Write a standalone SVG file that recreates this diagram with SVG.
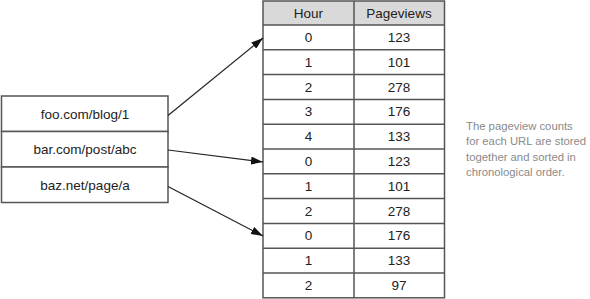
<svg xmlns="http://www.w3.org/2000/svg" width="590" height="299" viewBox="0 0 590 299">
  <style>
    .box { fill: #ffffff; stroke: #555555; stroke-width: 1.5; }
    .head { fill: #d9d9d9; }
    .grid { stroke: #555555; stroke-width: 1.5; fill: none; }
    .t { font-family: "Liberation Sans", Arial, sans-serif; font-size: 13.5px; fill: #222222; text-anchor: middle; }
    .note { font-family: "Liberation Sans", Arial, sans-serif; font-size: 11.3px; fill: #8a8a8a; }
    .arrow { stroke: #222222; stroke-width: 1.2; fill: none; marker-end: url(#head); }
  </style>
  <defs>
    <marker id="head" viewBox="0 0 12 8" refX="12" refY="4" markerWidth="12" markerHeight="8" markerUnits="userSpaceOnUse" orient="auto">
      <path d="M0,0 L12,4 L0,8 Z" fill="#111111"/>
    </marker>
  </defs>

  <!-- URL list -->
  <g id="url-foo">
    <rect class="box" x="1.5" y="96" width="166.5" height="35.5"/>
    <text class="t" x="85" y="118.5">foo.com/blog/1</text>
  </g>
  <g id="url-bar">
    <rect class="box" x="1.5" y="131.5" width="166.5" height="35.5"/>
    <text class="t" x="85" y="154">bar.com/post/abc</text>
  </g>
  <g id="url-baz">
    <rect class="box" x="1.5" y="167" width="166.5" height="35.5"/>
    <text class="t" x="85" y="189.5">baz.net/page/a</text>
  </g>

  <!-- Pageview table -->
  <g id="table">
    <rect class="head" x="263" y="1" width="181.5" height="24"/>
    <rect class="grid" x="263" y="1" width="181.5" height="296.8"/>
    <line class="grid" x1="354" y1="1" x2="354" y2="297.8"/>
    <g class="grid">
      <line x1="263" y1="25" x2="444.5" y2="25"/>
      <line x1="263" y1="49.8" x2="444.5" y2="49.8"/>
      <line x1="263" y1="74.6" x2="444.5" y2="74.6"/>
      <line x1="263" y1="99.4" x2="444.5" y2="99.4"/>
      <line x1="263" y1="124.2" x2="444.5" y2="124.2"/>
      <line x1="263" y1="149" x2="444.5" y2="149"/>
      <line x1="263" y1="173.8" x2="444.5" y2="173.8"/>
      <line x1="263" y1="198.6" x2="444.5" y2="198.6"/>
      <line x1="263" y1="223.4" x2="444.5" y2="223.4"/>
      <line x1="263" y1="248.2" x2="444.5" y2="248.2"/>
      <line x1="263" y1="273" x2="444.5" y2="273"/>
    </g>
    <text class="t" x="308.5" y="17.5">Hour</text>
    <text class="t" x="399" y="17.5">Pageviews</text>

    <text class="t" x="308.5" y="42">0</text><text class="t" x="399" y="42">123</text>
    <text class="t" x="308.5" y="66.8">1</text><text class="t" x="399" y="66.8">101</text>
    <text class="t" x="308.5" y="91.6">2</text><text class="t" x="399" y="91.6">278</text>
    <text class="t" x="308.5" y="116.4">3</text><text class="t" x="399" y="116.4">176</text>
    <text class="t" x="308.5" y="141.2">4</text><text class="t" x="399" y="141.2">133</text>
    <text class="t" x="308.5" y="166">0</text><text class="t" x="399" y="166">123</text>
    <text class="t" x="308.5" y="190.8">1</text><text class="t" x="399" y="190.8">101</text>
    <text class="t" x="308.5" y="215.6">2</text><text class="t" x="399" y="215.6">278</text>
    <text class="t" x="308.5" y="240.4">0</text><text class="t" x="399" y="240.4">176</text>
    <text class="t" x="308.5" y="265.2">1</text><text class="t" x="399" y="265.2">133</text>
    <text class="t" x="308.5" y="290">2</text><text class="t" x="399" y="290">97</text>
  </g>

  <!-- Connectors from each URL to the first row of its block -->
  <g id="connectors">
    <line class="arrow" x1="168" y1="115.5" x2="263" y2="38"/>
    <line class="arrow" x1="168" y1="150" x2="263" y2="162"/>
    <line class="arrow" x1="168" y1="186.5" x2="263" y2="236"/>
  </g>

  <!-- Side note -->
  <g id="note">
    <text class="note" x="466" y="130">The pageview counts</text>
    <text class="note" x="466" y="145.3">for each URL are stored</text>
    <text class="note" x="466" y="160.6">together and sorted in</text>
    <text class="note" x="466" y="175.9">chronological order.</text>
  </g>
</svg>
